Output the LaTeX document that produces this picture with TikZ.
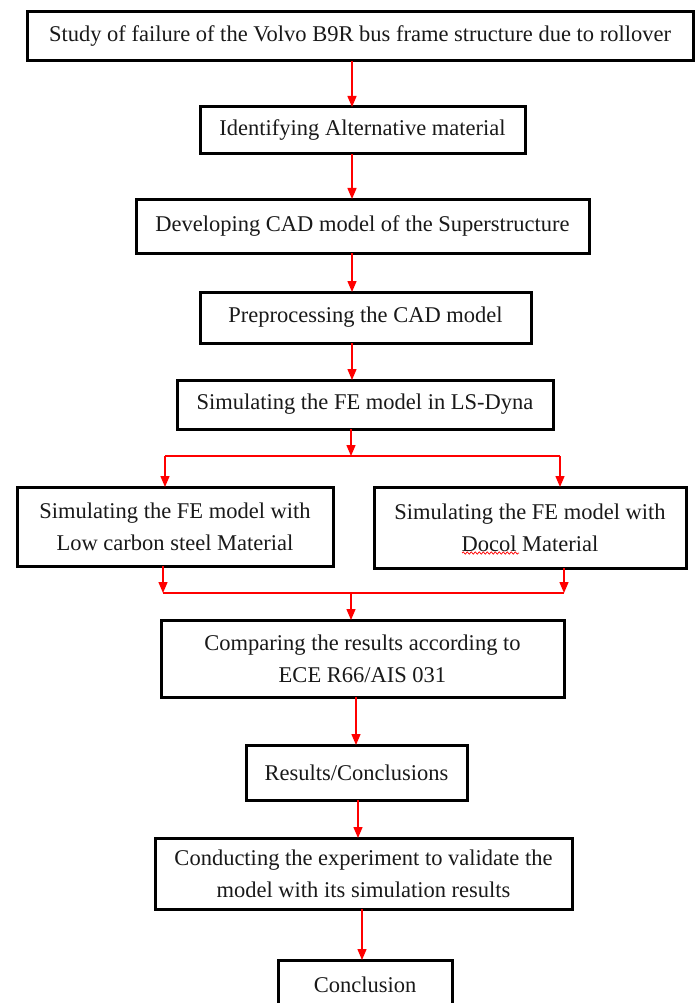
\documentclass[tikz,border=0pt]{standalone}
\usepackage{fontspec}
\setmainfont{Liberation Serif}
\usetikzlibrary{arrows.meta,decorations.pathmorphing}
\tikzset{
  box/.style={draw=black, line width=3pt, fill=white, inner sep=0pt, outer sep=0pt,
    align=center, font=\fontsize{22.5}{32}\selectfont, text=black!90},
  arr/.style={draw=red, line width=1.4pt, -{Triangle[width=9pt,length=11pt]}},
  ln/.style={draw=red, line width=1.4pt},
}
\begin{document}
\begin{tikzpicture}[x=1pt,y=-1pt]
\useasboundingbox (0,0) rectangle (697,1003);
\fill[white] (0,0) rectangle (697,1003);
\node[box, minimum width=666pt, minimum height=49pt] (b1) at (360,36.5) {Study of failure of the Volvo B9R bus frame structure due to rollover};
\node[box, minimum width=325pt, minimum height=47pt] (b2) at (362.5,130.5) {Identifying Alternative material};
\node[box, minimum width=453pt, minimum height=54pt] (b3) at (362.5,226) {Developing CAD model of the Superstructure};
\node[box, minimum width=331pt, minimum height=51pt] (b4) at (365.5,317.5) {Preprocessing the CAD model};
\node[box, minimum width=376pt, minimum height=49pt] (b5) at (365,404.5) {Simulating the FE model in LS-Dyna};
\node[box, minimum width=316pt, minimum height=79pt] (b6) at (175,526.5) {Simulating the FE model with\\Low carbon steel Material};
\node[box, minimum width=312pt, minimum height=81pt] (b7) at (530,527.5) {Simulating the FE model with\\Docol Material};
\node[box, minimum width=403pt, minimum height=77pt] (b8) at (362.5,658.5) {Comparing the results according to\\ECE R66/AIS 031};
\node[box, minimum width=221pt, minimum height=55pt] (b9) at (356.5,772.5) {Results/Conclusions};
\node[box, minimum width=417pt, minimum height=71pt] (b10) at (363.5,873.5) {Conducting the experiment to validate the\\model with its simulation results};
\node[box, minimum width=174pt, minimum height=50pt] (b11) at (365,985) {Conclusion};

\coordinate (split) at (351,456);
\coordinate (join) at (351,593);

\draw[arr] ([xshift=-8pt]b1.south) -- ([xshift=-10.5pt]b2.north);
\draw[arr] ([xshift=-10.5pt]b2.south) -- ([xshift=-10.5pt]b3.north);
\draw[arr] ([xshift=-10.5pt]b3.south) -- ([xshift=-13.5pt]b4.north);
\draw[arr] ([xshift=-13.5pt]b4.south) -- ([xshift=-13pt]b5.north);
\draw[arr] ([xshift=-14pt]b5.south) -- (split);
\draw[ln] (split -| 165,0) -- (split -| 560,0);
\draw[arr] (split -| 165,0) -- (b6.north -| 165,0);
\draw[arr] (split -| 560,0) -- (b7.north -| 560,0);
\draw[arr] (b6.south -| 163,0) -- (join -| 163,0);
\draw[arr] (b7.south -| 564,0) -- (join -| 564,0);
\draw[ln] (join -| 163,0) -- (join -| 564,0);
\draw[arr] (join) -- (b8.north -| join);
\draw[arr] ([xshift=-6.5pt]b8.south) -- ([xshift=-0.5pt]b9.north);
\draw[arr] ([xshift=1.5pt]b9.south) -- ([xshift=-5.5pt]b10.north);
\draw[arr] ([xshift=-1.5pt]b10.south) -- ([xshift=-3pt]b11.north);

\draw[red, line width=0.7pt, decorate, decoration={snake, amplitude=1.2pt, segment length=4pt}] (462,553) -- (519,553);
\end{tikzpicture}
\end{document}
